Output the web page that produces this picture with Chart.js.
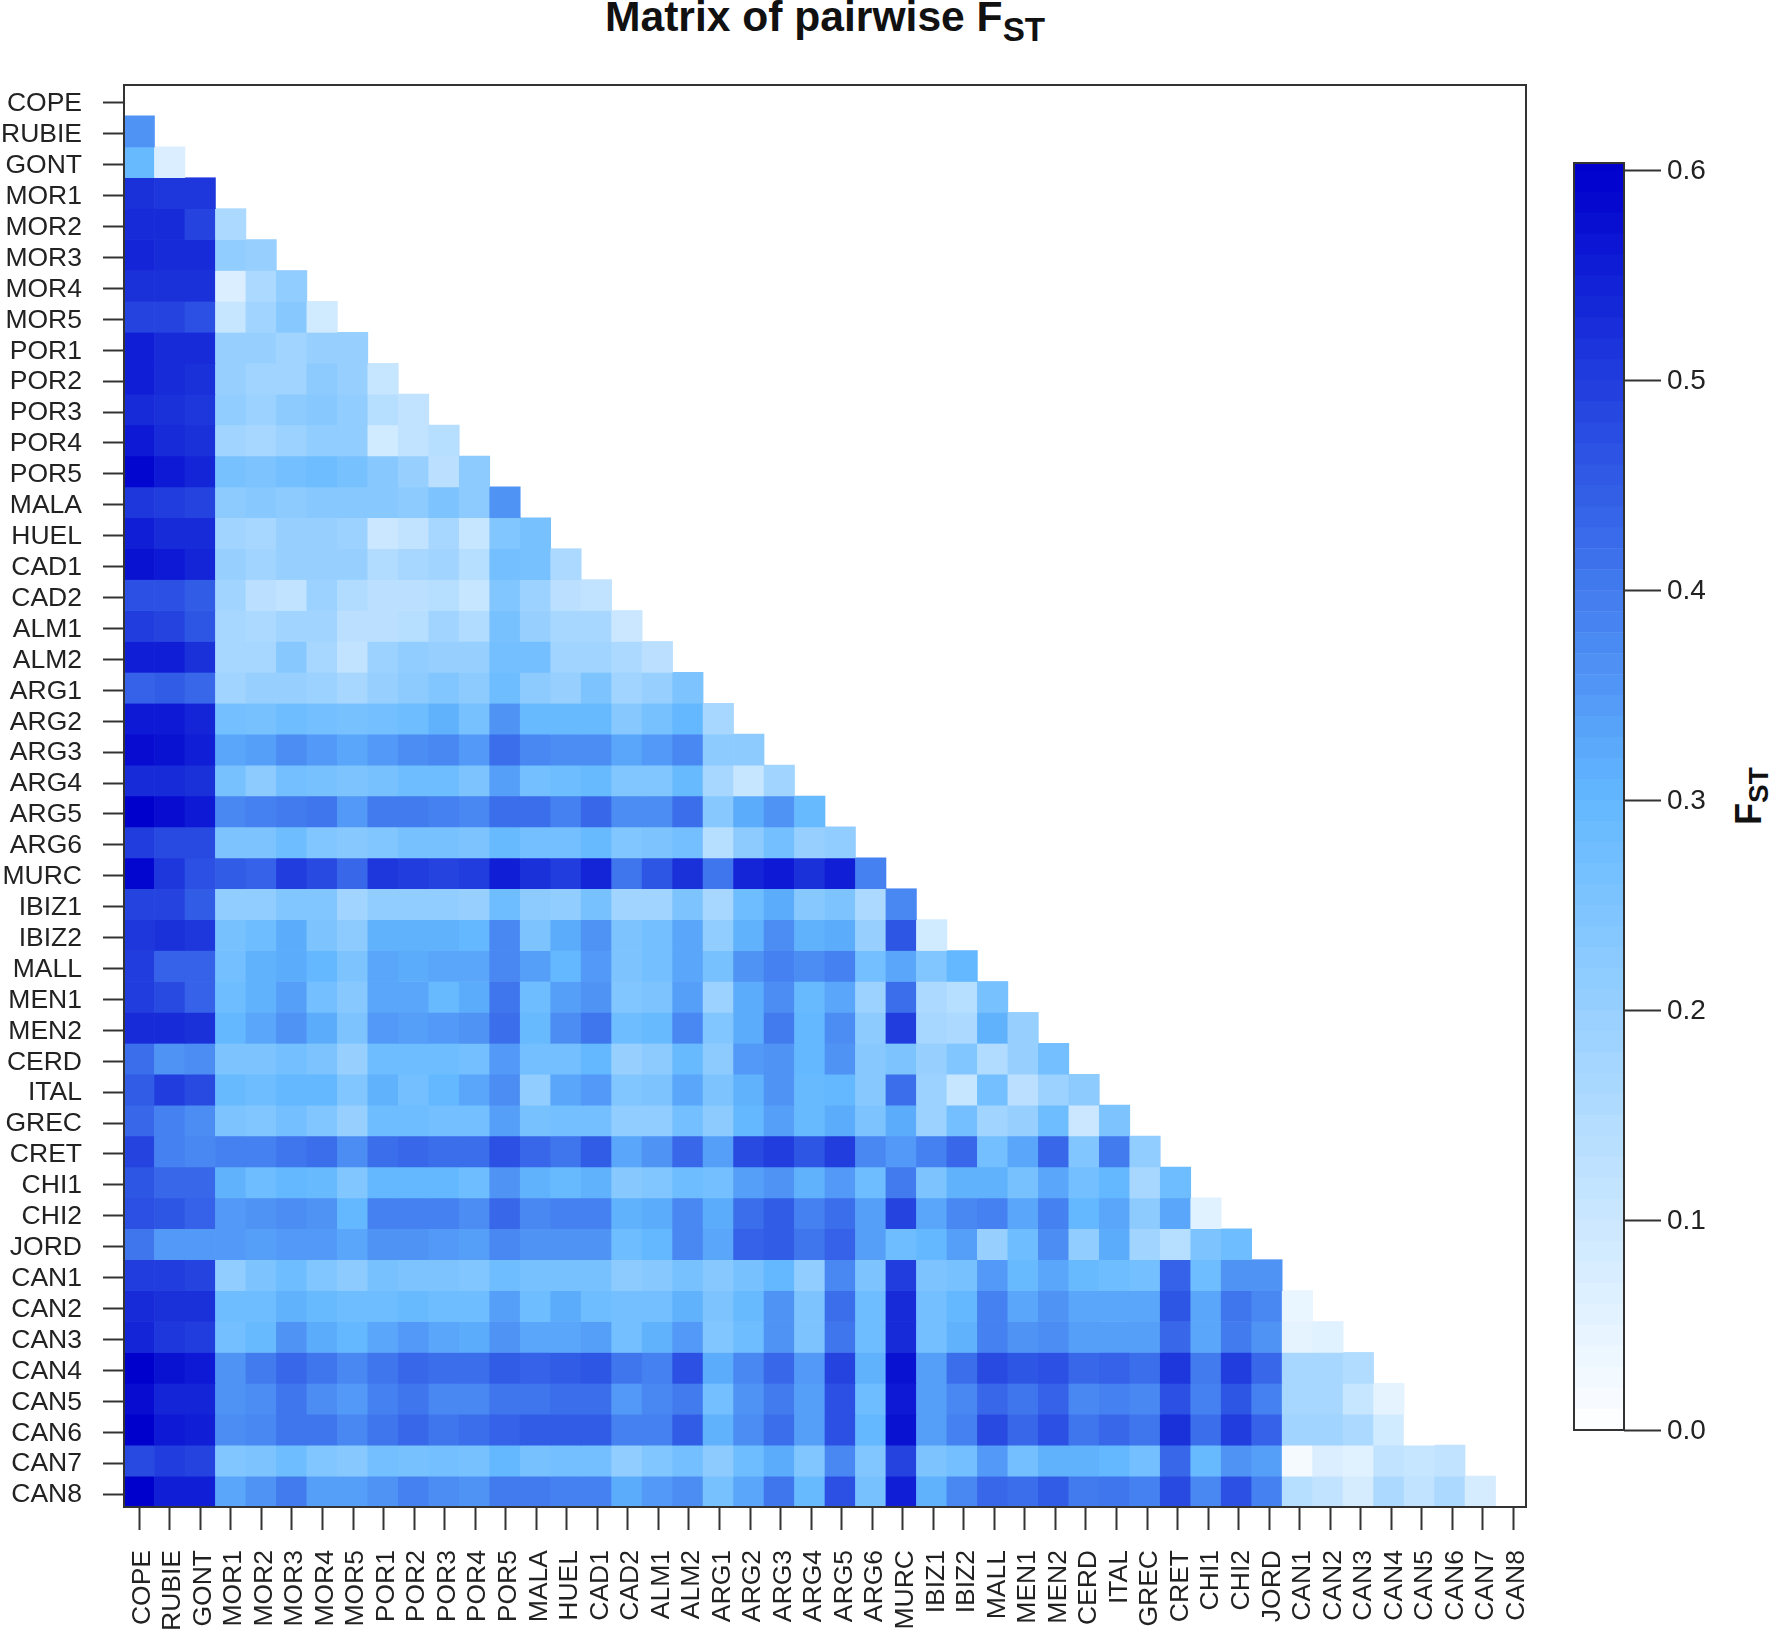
<!DOCTYPE html>
<html>
<head>
<meta charset="utf-8">
<title>Matrix of pairwise FST</title>
<script src="https://cdn.jsdelivr.net/npm/chart.js@4"></script>
<style>
  body { margin: 0; background: #fff; width: 1772px; height: 1633px; position: relative; overflow: hidden; font-family: "Liberation Sans", Arial, sans-serif; color: #111; }
  canvas { position: absolute; }
  #title { position: absolute; left: 605px; top: -9px; font-size: 42.6px; font-weight: bold; white-space: nowrap; line-height: 50px; }
  #title sub { font-size: 78%; line-height: 0; vertical-align: -0.3em; }
  #barTitle sub { font-size: 78%; line-height: 0; vertical-align: -0.25em; }
  #barTitle { position: absolute; left: 1749px; top: 796px; font-size: 36px; font-weight: bold; white-space: nowrap; line-height: 40px; transform: translate(-50%, -50%) rotate(-90deg); }
</style>
</head>
<body>
<div id="title">Matrix of pairwise F<sub>ST</sub></div>
<div id="barTitle">F<sub>ST</sub></div>
<canvas id="can" width="1772" height="1633" style="left:0;top:0"></canvas>
<canvas id="bar" width="212" height="1320" style="left:1560px;top:140px"></canvas>
<script>
var populations = ['COPE','RUBIE','GONT','MOR1','MOR2','MOR3','MOR4','MOR5','POR1','POR2','POR3','POR4','POR5','MALA','HUEL','CAD1','CAD2','ALM1','ALM2','ARG1','ARG2','ARG3','ARG4','ARG5','ARG6','MURC','IBIZ1','IBIZ2','MALL','MEN1','MEN2','CERD','ITAL','GREC','CRET','CHI1','CHI2','JORD','CAN1','CAN2','CAN3','CAN4','CAN5','CAN6','CAN7','CAN8'];

// lower triangle, one row per population
var fstRows = [
  [],
  [.36],
  [.29,.07],
  [.52,.51,.51],
  [.53,.53,.49,.16],
  [.54,.53,.53,.21,.20],
  [.52,.52,.52,.07,.16,.21],
  [.49,.49,.47,.11,.18,.23,.09],
  [.55,.53,.53,.20,.20,.18,.20,.20],
  [.55,.53,.52,.20,.18,.18,.22,.20,.11],
  [.53,.52,.51,.21,.19,.22,.23,.21,.14,.12],
  [.56,.53,.52,.18,.17,.19,.21,.21,.09,.12,.14],
  [.59,.56,.54,.26,.25,.27,.28,.26,.23,.20,.13,.22],
  [.51,.50,.49,.22,.23,.22,.23,.23,.23,.22,.25,.22,.36],
  [.55,.53,.53,.18,.17,.20,.20,.19,.10,.12,.17,.11,.24,.26],
  [.57,.56,.54,.20,.18,.20,.20,.20,.15,.17,.18,.14,.27,.26,.16],
  [.47,.47,.45,.18,.13,.12,.19,.15,.13,.13,.14,.11,.24,.19,.13,.12],
  [.50,.49,.46,.17,.16,.18,.18,.13,.13,.14,.18,.15,.26,.20,.17,.17,.10],
  [.55,.55,.52,.17,.17,.23,.17,.12,.19,.21,.20,.20,.27,.27,.18,.18,.16,.13],
  [.44,.45,.43,.18,.20,.20,.19,.17,.20,.22,.24,.22,.28,.22,.20,.25,.18,.20,.25],
  [.56,.56,.54,.27,.26,.28,.27,.26,.27,.28,.31,.26,.36,.29,.29,.29,.23,.26,.30,.17],
  [.58,.57,.55,.33,.34,.37,.35,.33,.35,.37,.38,.35,.42,.38,.37,.37,.33,.35,.38,.22,.22],
  [.53,.53,.52,.26,.22,.27,.26,.25,.26,.28,.28,.25,.34,.27,.28,.29,.24,.24,.29,.17,.11,.18],
  [.60,.58,.56,.38,.39,.40,.41,.35,.40,.40,.39,.38,.42,.42,.39,.43,.37,.37,.42,.23,.32,.36,.29],
  [.50,.48,.48,.25,.25,.28,.24,.23,.24,.26,.26,.25,.29,.27,.27,.29,.24,.25,.27,.14,.22,.27,.20,.21],
  [.59,.51,.47,.45,.44,.50,.48,.43,.51,.50,.49,.50,.55,.52,.50,.54,.41,.46,.52,.41,.54,.56,.52,.55,.39],
  [.49,.49,.45,.21,.21,.24,.24,.18,.21,.21,.21,.20,.28,.22,.21,.26,.18,.18,.25,.17,.28,.32,.23,.25,.16,.38],
  [.51,.52,.51,.26,.28,.32,.25,.22,.31,.31,.31,.30,.38,.25,.32,.36,.25,.27,.33,.21,.31,.37,.31,.32,.20,.46,.09],
  [.50,.44,.44,.27,.31,.32,.30,.25,.33,.32,.33,.33,.38,.34,.30,.35,.25,.27,.33,.26,.36,.39,.37,.39,.27,.33,.24,.30],
  [.50,.48,.44,.28,.31,.34,.27,.23,.33,.33,.29,.32,.41,.28,.34,.36,.24,.25,.34,.19,.32,.37,.29,.33,.19,.42,.16,.14,.26],
  [.53,.53,.52,.30,.33,.36,.32,.25,.35,.34,.35,.36,.42,.29,.37,.41,.28,.29,.38,.24,.32,.40,.30,.37,.22,.50,.17,.16,.31,.20],
  [.42,.36,.37,.25,.25,.27,.25,.20,.28,.28,.28,.27,.35,.27,.27,.30,.20,.22,.29,.22,.35,.36,.30,.36,.23,.25,.20,.24,.15,.20,.27],
  [.45,.50,.48,.29,.28,.30,.30,.24,.31,.27,.30,.33,.37,.21,.33,.35,.24,.25,.33,.25,.31,.36,.29,.30,.23,.42,.19,.11,.27,.13,.19,.22],
  [.43,.39,.37,.25,.24,.27,.24,.20,.28,.28,.27,.27,.34,.26,.27,.27,.21,.21,.27,.22,.30,.34,.29,.32,.25,.32,.19,.27,.18,.20,.28,.10,.25],
  [.49,.39,.38,.39,.39,.41,.42,.37,.42,.43,.42,.42,.47,.43,.41,.45,.33,.36,.43,.34,.48,.50,.46,.50,.38,.35,.39,.43,.27,.33,.43,.24,.40,.21],
  [.46,.43,.43,.31,.28,.30,.29,.24,.30,.30,.30,.28,.36,.31,.29,.31,.23,.24,.28,.27,.34,.36,.31,.35,.28,.40,.25,.31,.31,.26,.33,.27,.30,.17,.28],
  [.47,.46,.44,.35,.36,.37,.36,.30,.39,.39,.39,.37,.43,.38,.39,.39,.31,.32,.38,.32,.42,.45,.39,.42,.34,.49,.33,.38,.39,.33,.39,.30,.33,.22,.33,.06],
  [.41,.35,.35,.35,.34,.35,.35,.33,.36,.36,.35,.34,.38,.36,.36,.36,.28,.30,.38,.33,.44,.45,.41,.44,.34,.28,.30,.34,.20,.28,.37,.21,.32,.18,.14,.25,.28],
  [.50,.50,.49,.21,.25,.28,.24,.22,.26,.25,.25,.24,.28,.26,.26,.26,.22,.23,.26,.23,.26,.30,.21,.38,.25,.50,.25,.26,.35,.29,.33,.29,.28,.27,.44,.28,.36,.36],
  [.53,.52,.52,.28,.28,.31,.29,.28,.28,.29,.28,.28,.34,.28,.32,.28,.27,.27,.31,.25,.29,.36,.25,.42,.28,.53,.27,.30,.39,.33,.36,.33,.33,.33,.46,.33,.41,.38,.04],
  [.54,.51,.50,.27,.29,.36,.32,.30,.33,.35,.33,.32,.36,.33,.33,.34,.27,.31,.35,.24,.28,.36,.25,.41,.28,.53,.27,.31,.39,.36,.37,.34,.34,.34,.43,.33,.40,.36,.05,.06],
  [.60,.57,.56,.36,.40,.43,.41,.38,.41,.43,.42,.42,.45,.44,.45,.46,.41,.39,.47,.32,.38,.43,.35,.49,.31,.57,.34,.42,.48,.46,.47,.43,.44,.42,.51,.40,.50,.43,.17,.17,.15],
  [.58,.54,.54,.36,.37,.41,.37,.35,.39,.41,.38,.38,.41,.41,.42,.42,.35,.38,.40,.27,.36,.40,.34,.47,.28,.56,.34,.38,.43,.41,.44,.38,.39,.38,.47,.39,.46,.39,.17,.17,.11,.05],
  [.60,.56,.55,.37,.38,.41,.41,.38,.41,.43,.41,.42,.44,.45,.45,.45,.39,.39,.45,.31,.37,.42,.34,.47,.30,.57,.34,.39,.48,.43,.47,.41,.43,.41,.52,.42,.50,.44,.18,.18,.16,.09,0],
  [.48,.50,.49,.24,.25,.28,.24,.23,.27,.26,.27,.26,.30,.26,.27,.27,.21,.24,.27,.22,.28,.32,.24,.38,.24,.49,.25,.27,.35,.27,.31,.31,.30,.27,.43,.29,.36,.34,.02,.07,.06,.12,.11,.12],
  [.60,.55,.55,.33,.36,.40,.34,.34,.36,.39,.37,.36,.40,.40,.39,.39,.32,.35,.37,.26,.33,.41,.29,.47,.26,.55,.31,.38,.43,.42,.45,.40,.41,.39,.48,.38,.47,.39,.14,.12,.08,.16,.12,.16,.08]
];

var barTicks = [0, .1, .2, .3, .4, .5, .6];
var barMax = .6037;
var barStep = .01;

var axisColor = '#333';
var labelFont = { family: '"Liberation Sans", Arial, sans-serif', size: 26.5 };

// white -> steelblue1 -> mediumblue, same ramp as the colour key
function fstColor(v) {
    var r, g, b, t;
    if (v < .3) {
        t = v / .3;
        r = 255 - 156 * t; g = 255 - 71 * t; b = 255;
    } else {
        t = Math.min((v - .3) / .3, 1);
        r = 99 - 99 * t; g = 184 - 184 * t; b = 255 - 50 * t;
    }
    return 'rgb(' + Math.round(r) + ',' + Math.round(g) + ',' + Math.round(b) + ')';
}

var frame = {
    id: 'frame',
    afterDatasetsDraw: function (chart) {
        var a = chart.chartArea, ctx = chart.ctx;
        ctx.save();
        ctx.strokeStyle = axisColor;
        ctx.lineWidth = 2;
        ctx.strokeRect(a.left, a.top, a.right - a.left, a.bottom - a.top);
        ctx.restore();
    }
};

var datasets = [];
for (var r = 0; r < fstRows.length; r++) {
    var cells = [];
    for (var c = 0; c < fstRows[r].length; c++) {
        cells.push({ x: populations[c], y: [r - .5, r + .5] });
    }
    datasets.push({
        label: populations[r],
        data: cells,
        backgroundColor: fstRows[r].map(fstColor),
        borderWidth: 0,
        barPercentage: 1,
        categoryPercentage: 1
    });
}

new Chart(document.getElementById('can').getContext('2d'), {
    type: 'bar',
    data: { labels: populations, datasets: datasets },
    options: {
        responsive: false,
        animation: false,
        layout: { padding: { top: 85, right: 246, bottom: 0, left: 0 } },
        plugins: { legend: { display: false }, title: { display: false }, tooltip: { enabled: false } },
        scales: {
            x: {
                stacked: true,
                offset: true,
                afterFit: function (scale) { scale.height = 126; },
                // the ticks in the picture drift a little to the right of the cell centres
                afterBuildTicks: function (scale) {
                    scale.ticks = populations.map(function (p, i) { return { value: i * 1.002 }; });
                },
                grid: { offset: false, drawOnChartArea: false, tickLength: 23, tickColor: axisColor, tickWidth: 2 },
                border: { display: false },
                ticks: {
                    autoSkip: false,
                    minRotation: 90,
                    maxRotation: 90,
                    padding: 20,
                    labelOffset: 3,
                    color: '#222',
                    font: labelFont,
                    callback: function (v, i) { return populations[i]; }
                }
            },
            y: {
                reverse: true,
                min: -.5,
                max: populations.length - .5,
                afterFit: function (scale) { scale.width = 124; },
                afterBuildTicks: function (scale) {
                    scale.ticks = populations.map(function (p, i) { return { value: i + .08 }; });
                },
                grid: { drawOnChartArea: false, tickLength: 21, tickColor: axisColor, tickWidth: 2 },
                border: { display: false },
                ticks: {
                    autoSkip: false,
                    padding: 21,
                    labelOffset: 1,
                    color: '#222',
                    font: labelFont,
                    callback: function (v, i) { return populations[i]; }
                }
            }
        }
    },
    plugins: [frame]
});

// colour key, one thin stacked bar per step
var keyData = [];
for (var k = 0; k * barStep < barMax; k++) {
    keyData.push({
        data: [Math.min(barStep, barMax - k * barStep)],
        backgroundColor: fstColor((k + .5) * barStep),
        borderWidth: 0,
        barPercentage: 1,
        categoryPercentage: 1
    });
}

new Chart(document.getElementById('bar').getContext('2d'), {
    type: 'bar',
    data: { labels: ['FST'], datasets: keyData },
    options: {
        responsive: false,
        animation: false,
        layout: { padding: { top: 23, right: 0, bottom: 30, left: 14 } },
        plugins: { legend: { display: false }, title: { display: false }, tooltip: { enabled: false } },
        scales: {
            x: { stacked: true, display: false },
            y: {
                stacked: true,
                position: 'right',
                min: 0,
                max: barMax,
                afterFit: function (scale) { scale.width = 148; },
                afterBuildTicks: function (scale) {
                    scale.ticks = barTicks.map(function (v) { return { value: v }; });
                },
                grid: { drawOnChartArea: false, tickLength: 37, tickColor: axisColor, tickWidth: 2 },
                border: { display: false },
                ticks: {
                    padding: 6,
                    labelOffset: 1,
                    color: '#222',
                    font: { family: labelFont.family, size: 28 },
                    callback: function (v) { return v.toFixed(1); }
                }
            }
        }
    },
    plugins: [frame]
});
</script>
</body>
</html>
